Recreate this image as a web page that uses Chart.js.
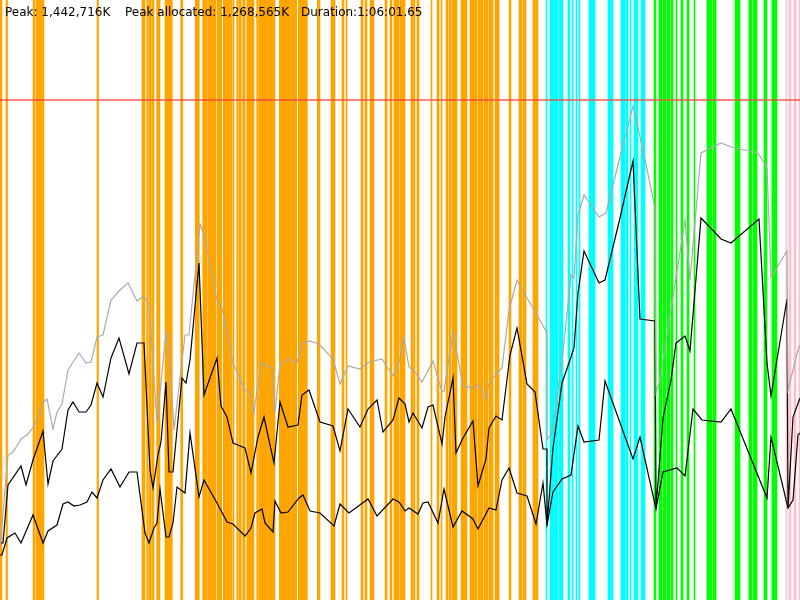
<!DOCTYPE html>
<html>
<head>
<meta charset="utf-8">
<script src="https://cdn.jsdelivr.net/npm/chart.js@4.4.1/dist/chart.umd.min.js"></script>
<style>
  html, body { margin: 0; padding: 0; background: #fff; }
  #wrap { position: relative; width: 800px; height: 600px; }
  #gcChart { display: block; }
  .stat {
    position: absolute;
    top: 5px;
    font: 12px "DejaVu Sans", sans-serif;
    line-height: 14px;
    color: #000;
    white-space: nowrap;
  }
</style>
</head>
<body>
<div id="wrap">
  <canvas id="gcChart" width="800" height="600"></canvas>
  <span class="stat" style="left:5px">Peak: 1,442,716K</span>
  <span class="stat" style="left:125px">Peak allocated: 1,268,565K</span>
  <span class="stat" style="left:301px">Duration:1:06:01.65</span>
</div>
<script>
// GC pause intervals [start, end] on the time axis, grouped by collector phase
const youngPauses = [
  [0, 2], [6, 7.5], [33, 35], [36, 44], [97, 98.5], [142, 145], [146.7, 148.3],
  [149.3, 151], [151.7, 154], [156.7, 160], [165, 172.3], [180.7, 182.7], [195.3, 199.3],
  [202.7, 207.3], [208, 216], [217.3, 221.7], [223.3, 230], [230.5, 231.7], [232.7, 234],
  [236.7, 238.3], [239.3, 241.3], [242.7, 245], [246.7, 254], [256.7, 258.3], [259, 267],
  [267.5, 275], [279.3, 282.7], [283.3, 290], [290.5, 296.7], [298.3, 300.7], [301, 307.3],
  [317.3, 320], [331, 335], [342, 344], [346, 347], [361, 363], [365, 367], [370, 374],
  [385, 387], [390, 392], [394, 399], [400, 405], [411, 413], [413.5, 415], [417, 419],
  [431, 432], [437, 439], [441, 442], [446, 448], [449, 451], [452, 457], [461, 467],
  [470, 477], [478, 483], [484, 488], [489, 493], [495, 499], [509, 511], [519, 522],
  [523, 526], [533, 538]
];
const markPauses = [
  [546, 547], [550, 554], [554.5, 558], [559, 563], [568, 570], [572, 573], [576, 577],
  [579, 580], [589, 595], [608, 613], [621, 625], [626, 628], [630, 631], [634, 638],
  [641, 645]
];
const fullPauses = [
  [654, 656], [659, 662], [663, 666], [667, 670], [671, 673], [676, 677], [681, 683],
  [687, 689], [694, 695], [707, 712], [713, 716], [735, 740], [749, 752], [753, 757],
  [764, 767], [772, 777]
];
const otherPauses = [[786, 787], [789, 791], [794, 796], [799, 800]];

// [time, heap] samples
const heapSize = [
  [0, 52], [8, 145], [13, 148], [22, 162], [27, 165], [33, 172], [38, 183], [43, 198],
  [47, 201], [53, 171], [57, 188], [62, 196], [68, 230], [79, 247], [86, 237], [91, 238],
  [97, 263], [103, 265], [111, 300], [120, 310], [128, 317], [137, 299], [144, 304],
  [149, 295], [157, 177], [166, 268], [169, 253], [174, 170], [185, 265], [189, 265],
  [200, 376], [204, 365], [217, 300], [222, 292], [233, 237], [245, 210], [250, 207],
  [254, 188], [261, 237], [272, 232], [275, 188], [280, 235], [288, 241], [297, 237],
  [302, 256], [309, 259], [319, 256], [333, 241], [340, 216], [348, 234], [360, 231],
  [369, 238], [382, 241], [393, 224], [399, 238], [404, 262], [409, 233], [415, 228],
  [422, 218], [433, 239], [442, 208], [444, 209], [453, 268], [463, 214], [473, 212],
  [478, 215], [486, 201], [489, 216], [497, 227], [502, 232], [509, 290], [517, 320],
  [527, 302], [537, 285], [547, 267], [547, 160], [552, 167], [563, 248], [571, 325],
  [574, 322], [578, 385], [584, 405], [599, 383], [606, 387], [620, 443], [633, 494],
  [643, 450], [655, 392], [656, 207], [660, 220], [685, 380], [690, 320], [701, 447],
  [721, 457], [731, 453], [758, 447], [767, 432], [771, 323], [787, 349], [788, 210],
  [798, 250], [800, 255]
];
const usedBefore = [
  [0, 57], [3, 57], [8, 115], [21, 134], [26, 115], [33, 140], [43, 169], [48, 116],
  [53, 139], [62, 151], [68, 190], [73, 198], [79, 188], [86, 188], [91, 195], [97, 217],
  [103, 203], [111, 242], [119, 262], [129, 226], [137, 257], [144, 257], [150, 130],
  [153, 112], [158, 145], [161, 158], [166, 218], [169, 128], [173, 128], [182, 222],
  [186, 217], [190, 240], [199, 337], [204, 205], [217, 242], [221, 194], [227, 183],
  [233, 157], [245, 152], [251, 127], [258, 163], [264, 183], [270, 155], [274, 137],
  [280, 198], [288, 173], [298, 175], [302, 205], [309, 210], [320, 178], [333, 174],
  [340, 149], [348, 191], [360, 173], [368, 191], [377, 200], [383, 168], [393, 180],
  [399, 202], [405, 196], [409, 178], [413, 187], [422, 172], [428, 193], [433, 195],
  [442, 156], [445, 183], [453, 222], [456, 147], [463, 162], [473, 179], [478, 114],
  [486, 141], [489, 172], [496, 184], [502, 180], [510, 245], [517, 272], [527, 216],
  [535, 208], [543, 151], [547, 151], [547, 75], [553, 152], [562, 217], [570, 240],
  [574, 252], [578, 307], [584, 349], [599, 317], [605, 320], [620, 382], [633, 439],
  [640, 281], [655, 279], [656, 92], [663, 182], [671, 220], [676, 257], [685, 264],
  [690, 249], [701, 382], [721, 361], [731, 357], [759, 381], [767, 237], [771, 204],
  [787, 301], [788, 92], [793, 183], [800, 202]
];
const usedAfter = [
  [0, 45], [2, 45], [7, 62], [15, 67], [21, 57], [33, 85], [43, 57], [48, 69], [57, 75],
  [63, 96], [68, 98], [74, 94], [80, 95], [87, 98], [92, 108], [97, 102], [103, 120],
  [111, 131], [120, 113], [129, 128], [137, 128], [145, 67], [149, 57], [154, 72],
  [157, 77], [160, 111], [166, 63], [169, 63], [173, 77], [177, 113], [185, 107],
  [190, 167], [199, 103], [204, 120], [217, 97], [227, 78], [233, 76], [245, 64],
  [251, 72], [255, 87], [262, 91], [265, 77], [273, 68], [275, 99], [281, 87], [288, 88],
  [299, 102], [303, 105], [310, 89], [320, 87], [334, 74], [340, 96], [349, 87],
  [368, 101], [377, 84], [393, 101], [399, 98], [405, 89], [409, 92], [418, 86],
  [423, 97], [428, 98], [438, 77], [444, 111], [453, 73], [462, 89], [473, 81], [478, 71],
  [489, 92], [496, 90], [502, 120], [509, 132], [517, 107], [527, 104], [536, 76],
  [543, 117], [547, 75], [553, 108], [562, 121], [571, 125], [578, 174], [584, 158],
  [599, 160], [605, 219], [633, 141], [640, 163], [656, 91], [663, 128], [677, 132],
  [685, 124], [693, 191], [702, 180], [721, 178], [731, 191], [767, 102], [771, 163],
  [788, 92], [793, 100], [798, 165], [800, 167]
];
const heapLimit = 500;
const timeRange = [0, 800];

const COLORS = {
  young: '#ffa500',
  mark: '#00ffff',
  full: '#00ff00',
  other: '#ffc0cb',
  heap: '#aaaaaa',
  used: '#000000',
  limit: 'rgba(255, 60, 60, 0.85)'
};

function pauseDataset(pauses, color) {
  return {
    type: 'bar',
    indexAxis: 'y',
    xAxisID: 'x',
    yAxisID: 'y',
    data: pauses.map(p => ({ x: p, y: 'gc' })),
    backgroundColor: color,
    borderWidth: 0,
    barPercentage: 1,
    categoryPercentage: 1,
    grouped: false,
    order: 10
  };
}

function lineDataset(points, color, width) {
  return {
    type: 'line',
    xAxisID: 'x',
    yAxisID: 'mem',
    data: points.map(p => ({ x: p[0], y: p[1] })),
    borderColor: color,
    borderWidth: width,
    pointRadius: 0,
    tension: 0,
    fill: false,
    order: 1
  };
}

const ctx = document.getElementById('gcChart').getContext('2d');
new Chart(ctx, {
  type: 'line',
  data: {
    datasets: [
      pauseDataset(youngPauses, COLORS.young),
      pauseDataset(markPauses, COLORS.mark),
      pauseDataset(fullPauses, COLORS.full),
      pauseDataset(otherPauses, COLORS.other),
      {
        type: 'line',
        xAxisID: 'x',
        yAxisID: 'mem',
        data: timeRange.map(t => ({ x: t, y: heapLimit })),
        borderColor: COLORS.limit,
        borderWidth: 1.5,
        pointRadius: 0,
        order: 0
      },
      lineDataset(heapSize, COLORS.heap, 1.2),
      lineDataset(usedBefore, COLORS.used, 1.2),
      lineDataset(usedAfter, COLORS.used, 1.2)
    ]
  },
  options: {
    responsive: false,
    animation: false,
    layout: { padding: 0 },
    plugins: {
      legend: { display: false },
      title: { display: false },
      tooltip: { enabled: false }
    },
    scales: {
      x: { type: 'linear', min: timeRange[0], max: timeRange[1], display: false },
      y: { type: 'category', labels: ['gc'], offset: true, display: false },
      mem: { type: 'linear', axis: 'y', position: 'left', min: 0, max: 600, display: false }
    }
  }
});
</script>
</body>
</html>
